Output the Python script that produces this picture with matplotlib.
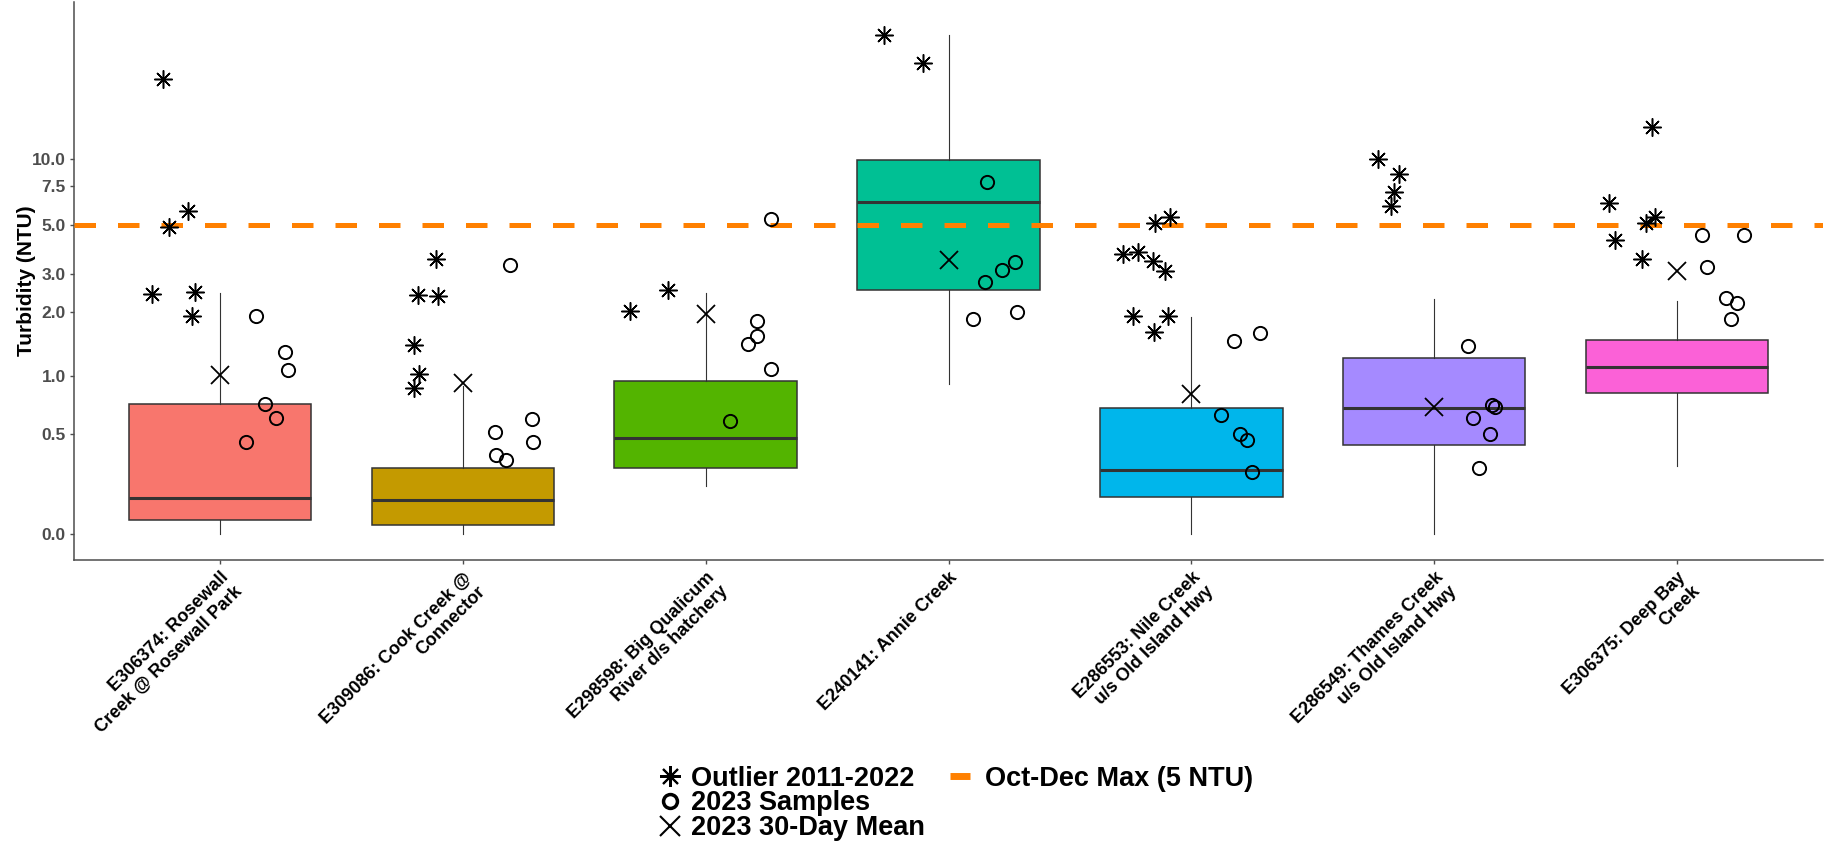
import numpy as np
import matplotlib.pyplot as plt
from matplotlib.lines import Line2D

plt.rcParams['font.family'] = ['Liberation Sans', 'DejaVu Sans']

# --- Données ---
sites = ["E306374: Rosewall\nCreek @ Rosewall Park",
         "E309086: Cook Creek @\nConnector",
         "E298598: Big Qualicum\nRiver d/s hatchery",
         "E240141: Annie Creek",
         "E286553: Nile Creek\nu/s Old Island Hwy",
         "E286549: Thames Creek\nu/s Old Island Hwy",
         "E306375: Deep Bay\nCreek"]

# statistiques des boîtes 2011-2022
whis_lo = [0.0, 0.0, 0.21, 0.92, 0.0, 0.0, 0.31]
q1 = [0.06, 0.038, 0.30, 2.55, 0.16, 0.43, 0.83]
median = [0.156, 0.145, 0.47, 6.4, 0.29, 0.69, 1.11]
q3 = [0.725, 0.30, 0.95, 9.9, 0.69, 1.23, 1.49]
whis_hi = [2.46, 0.90, 2.47, 36.4, 1.91, 2.30, 2.26]

# moyenne 30 jours 2023
mean_30d = [1.02, 0.925, 1.96, 3.48, 0.82, 0.70, 3.10]

# valeurs aberrantes 2011-2022 (et décalage horizontal du jitter)
outliers = [[23.0, 4.93, 5.81, 2.44, 2.48, 1.93],
            [3.53, 2.41, 2.38, 1.41, 1.03, 0.88],
            [2.54, 2.03],
            [36.4, 27.1],
            [3.70, 3.80, 3.44, 3.11, 5.14, 5.46, 1.93, 1.93, 1.62],
            [10.0, 8.5, 7.1, 6.1],
            [14.0, 6.3, 5.47, 5.14, 4.29, 3.51]]
outliers_dx = [[-0.233, -0.208, -0.13, -0.278, -0.10, -0.114],
               [-0.11, -0.185, -0.10, -0.20, -0.18, -0.20],
               [-0.155, -0.31],
               [-0.267, -0.107],
               [-0.28, -0.22, -0.16, -0.11, -0.15, -0.09, -0.24, -0.096, -0.156],
               [-0.23, -0.145, -0.167, -0.177],
               [-0.105, -0.28, -0.093, -0.127, -0.255, -0.146]]

# échantillons 2023
samples = [[1.92, 1.31, 1.07, 0.73, 0.614, 0.45],
           [3.29, 0.51, 0.604, 0.45, 0.371, 0.341],
           [5.32, 1.83, 1.56, 1.43, 1.08, 0.59],
           [7.84, 3.42, 3.14, 2.75, 2.01, 1.86],
           [1.47, 1.61, 0.64, 0.50, 0.46, 0.28],
           [1.40, 0.72, 0.70, 0.61, 0.50, 0.30],
           [4.5, 4.5, 3.23, 2.34, 2.21, 1.86]]
samples_dx = [[0.149, 0.27, 0.28, 0.186, 0.23, 0.11],
              [0.196, 0.134, 0.285, 0.29, 0.139, 0.18],
              [0.27, 0.21, 0.21, 0.176, 0.27, 0.10],
              [0.157, 0.274, 0.222, 0.15, 0.284, 0.10],
              [0.176, 0.284, 0.122, 0.2, 0.228, 0.25],
              [0.139, 0.236, 0.25, 0.16, 0.23, 0.184],
              [0.103, 0.274, 0.124, 0.2, 0.247, 0.222]]

limit_ntu = 5
y_ticks = [0, 0.5, 1, 2, 3, 5, 7.5, 10]
colors = ['#F8766D', '#C49A00', '#53B400', '#00C094', '#00B6EB', '#A58AFF', '#FB61D7']

# --- Figure ---
W, H = 1841, 846
fig = plt.figure(figsize=(W / 100, H / 100), dpi=100)
ax = fig.add_axes([74 / W, 1 - 560 / H, (1823 - 74) / W, (560 - 2) / H])

# échelle pseudo-log (asinh, sigma = 0.2)
ax.set_yscale('function', functions=(lambda v: np.arcsinh(v / 0.4),
                                      lambda t: 0.4 * np.sinh(t)))

pos = np.arange(1, len(sites) + 1)
stats = [dict(med=median[i], q1=q1[i], q3=q3[i], whislo=whis_lo[i],
              whishi=whis_hi[i], fliers=[]) for i in range(len(sites))]
bp = ax.bxp(stats, positions=pos, widths=0.75, patch_artist=True,
            showcaps=False, showfliers=False,
            boxprops=dict(edgecolor='#333333', linewidth=1.1),
            medianprops=dict(color='#333333', linewidth=2.2),
            whiskerprops=dict(color='#333333', linewidth=0.8))
for patch, c in zip(bp['boxes'], colors):
    patch.set_facecolor(c)

ax.axhline(limit_ntu, color='#FF8000', lw=3.6, dashes=(4.3, 4.4), zorder=3)

for i in range(len(sites)):
    ax.plot(pos[i] + np.array(outliers_dx[i]), outliers[i], ls='none',
            marker=(8, 2, 0), ms=13, mew=1.1, color='black', zorder=4)
    ax.plot(pos[i] + np.array(samples_dx[i]), samples[i], ls='none',
            marker='o', ms=9.5, mfc='none', mec='black', mew=1.4, zorder=4)
ax.plot(pos, mean_30d, ls='none', marker='x', ms=13, mew=1.3,
        color='black', zorder=4)

# Mise en forme
ax.set_xlim(0.4, 7.6)
ax.set_ylim(0.4 * np.sinh(-0.266), 0.4 * np.sinh(5.547))
ax.set_yticks(y_ticks)
ax.set_yticklabels([f"{v:.1f}" for v in y_ticks])
ax.set_xticks(pos)
ax.set_xticklabels(sites, rotation=45, ha='right', va='top',
                   rotation_mode='anchor', fontsize=13, fontweight='bold',
                   color='black')
ax.minorticks_off()
for lab in ax.get_yticklabels():
    lab.set_fontweight('bold')
ax.tick_params(axis='y', labelsize=12.5, labelcolor='#4D4D4D',
               color='#4D4D4D', length=3, width=1, pad=3)
ax.tick_params(axis='x', color='#4D4D4D', length=3, width=1)
for s in ['top', 'right']:
    ax.spines[s].set_visible(False)
for s in ['left', 'bottom']:
    ax.spines[s].set_color('#4D4D4D')
    ax.spines[s].set_linewidth(1.1)
ax.set_ylabel("Turbidity (NTU)", fontsize=15, fontweight='bold')
ax.yaxis.set_label_coords(-0.022, 0.5)

# Légende : deux blocs
h_out = Line2D([], [], ls='none', marker=(8, 2, 0), ms=15, mew=1.5,
               color='black', label='Outlier 2011-2022')
h_smp = Line2D([], [], ls='none', marker='o', ms=10, mfc='none', mec='black',
               mew=2.5, label='2023 Samples')
h_mean = Line2D([], [], ls='none', marker='x', ms=15, mew=1.5,
                color='black', label='2023 30-Day Mean')
h_line = Line2D([], [], ls='none', marker='_', ms=14, mew=5,
                color='#FF8000', label='Oct-Dec Max (5 NTU)')
leg_kw = dict(borderaxespad=0, frameon=False, prop=dict(weight='bold', size=19.5),
              handlelength=0.8, labelspacing=-0.05)
fig.legend(handles=[h_out, h_smp, h_mean], loc='upper left',
           bbox_to_anchor=(648 / W, 1 - 755 / H), handletextpad=0.4, **leg_kw)
fig.legend(handles=[h_line], loc='upper left',
           bbox_to_anchor=(938 / W, 1 - 755 / H), handletextpad=0.55, **leg_kw)

fig.savefig("out.png", dpi=100)
